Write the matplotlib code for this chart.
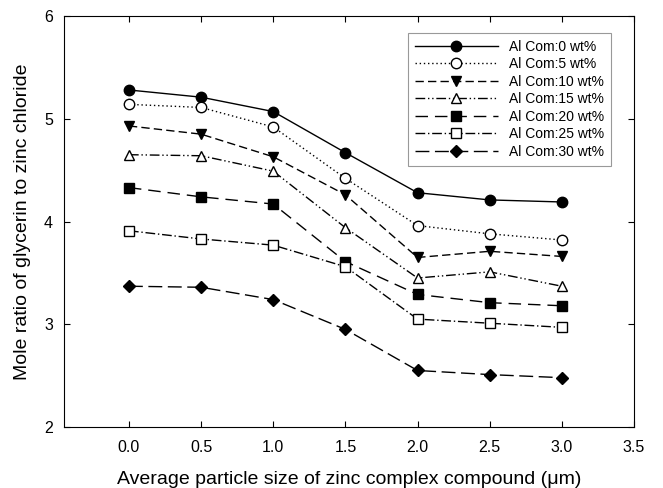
import matplotlib
matplotlib.use('Agg')
import matplotlib.pyplot as plt

plt.rcParams['font.family'] = ['Liberation Sans', 'DejaVu Sans']

# Data
sizes = [0.0, 0.5, 1.0, 1.5, 2.0, 2.5, 3.0]
labels = ['Al Com:0 wt%', 'Al Com:5 wt%', 'Al Com:10 wt%', 'Al Com:15 wt%',
          'Al Com:20 wt%', 'Al Com:25 wt%', 'Al Com:30 wt%']
com0 = [5.28, 5.21, 5.07, 4.67, 4.28, 4.21, 4.19]
com5 = [5.14, 5.11, 4.92, 4.42, 3.96, 3.88, 3.82]
com10 = [4.93, 4.85, 4.63, 4.26, 3.65, 3.71, 3.66]
com15 = [4.65, 4.64, 4.49, 3.94, 3.45, 3.51, 3.37]
com20 = [4.33, 4.24, 4.17, 3.61, 3.29, 3.21, 3.18]
com25 = [3.91, 3.83, 3.77, 3.56, 3.05, 3.01, 2.97]
com30 = [3.37, 3.36, 3.24, 2.95, 2.55, 2.51, 2.48]
series = [com0, com5, com10, com15, com20, com25, com30]

# Styles: (marker, filled, linestyle)
styles = [
    ('o', True, '-'),
    ('o', False, (0, (1, 2))),
    ('v', True, (0, (6, 3))),
    ('^', False, (0, (7, 2, 1, 2, 1, 2))),
    ('s', True, (0, (9, 5))),
    ('s', False, (0, (7, 2, 1, 2))),
    ('D', True, (0, (10, 4))),
]

fig = plt.figure(figsize=(6.63, 4.88), dpi=100)
ax = fig.add_axes([64 / 663, 61 / 488, 570 / 663, 411 / 488])

for vals, lab, (mk, filled, ls) in zip(series, labels, styles):
    ms = 7.5 if mk != 'D' else 6.5
    ax.plot(sizes, vals, linestyle=ls, color='black', linewidth=1.0,
            marker=mk, markersize=ms,
            markerfacecolor='black' if filled else 'white',
            markeredgecolor='black', markeredgewidth=1.0, label=lab)

ax.set_xlim(-0.45, 3.5)
ax.set_ylim(2, 6)
ax.set_xticks([0.0, 0.5, 1.0, 1.5, 2.0, 2.5, 3.0, 3.5])
ax.set_xticklabels(['0.0', '0.5', '1.0', '1.5', '2.0', '2.5', '3.0', '3.5'])
ax.set_yticks([2, 3, 4, 5, 6])
ax.tick_params(axis='both', direction='in', length=4.5, labelsize=11.5)
ax.tick_params(axis='x', top=True, pad=9)
ax.tick_params(axis='y', right=True, pad=8)

ax.set_xlabel('Average particle size of zinc complex compound (\u03bcm)', fontsize=14, labelpad=12)
ax.set_ylabel('Mole ratio of glycerin to zinc chloride', fontsize=14, labelpad=9)

leg = ax.legend(loc='upper right', bbox_to_anchor=(0.96, 0.959), fontsize=10,
                frameon=True, fancybox=False, edgecolor='gray',
                handlelength=6, handletextpad=0.8, labelspacing=0.25,
                borderpad=0.5, borderaxespad=0)
leg.get_frame().set_linewidth(0.8)

plt.savefig('out.png', dpi=100)
plt.close()
